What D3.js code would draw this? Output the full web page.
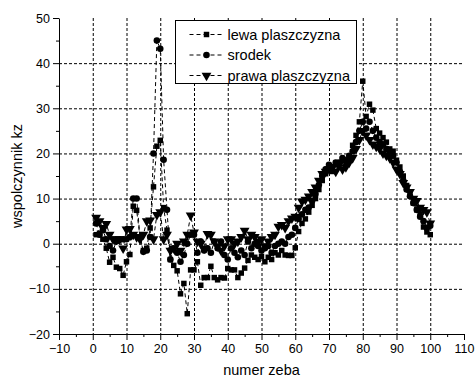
<!DOCTYPE html>
<html>
<head>
<meta charset="utf-8">
<script src="https://cdn.jsdelivr.net/npm/d3@7/dist/d3.min.js"></script>
<style>
body { margin: 0; background: #fff; }
text { font-family: Arial, "Liberation Sans", sans-serif; fill: #000; }
</style>
</head>
<body>
<div id="chart"></div>
<script>
// numer zeba 1..100
var zeby = d3.range(1, 101);

var lewa = [2.0, 2.3, 1.0, -1.0, -4.1, -3.0, -5.2, -5.5, -7.0, -4.0,
	-2.4, 8.3, 7.4, 1.5, -1.5, -1.0, 3.5, 12.6, 21.6, 22.9,
	8.0, 3.0, -3.5, -4.8, -6.0, -11.1, -8.8, -15.5, -5.8, -5.8,
	-4.0, -9.2, -7.5, -7.5, -5.0, -7.5, -8.0, -7.5, -7.6, -5.5,
	-5.8, -5.8, -7.5, -6.5, -5.4, -3.7, -2.5, -3.0, -3.5, -2.8,
	-4.0, -3.0, -3.5, -2.0, -2.5, -1.5, -2.5, -2.6, -2.6, -0.9,
	2.7, 4.5, 5.5, 7.0, 8.5, 10.0, 12.0, 14.0, 15.5, 16.5,
	16.0, 17.5, 17.0, 18.5, 18.0, 19.0, 21.8, 24.0, 27.0, 36.0,
	28.2, 30.9, 29.6, 25.5, 24.5, 23.5, 22.5, 21.0, 20.5, 18.5,
	17.0, 15.0, 12.9, 11.0, 9.0, 7.5, 6.6, 3.7, 2.6, 2.0];

var srodek = [4.5, 2.0, 3.0, 1.0, -0.5, -1.5, 0.5, 1.0, 1.0, 1.0,
	1.5, 10.0, 10.0, 1.5, -1.8, -1.5, 1.5, 20.0, 45.0, 43.2,
	18.6, 7.5, -3.5, -1.0, -2.0, -4.0, -2.5, 0.0, 2.0, 2.0,
	-2.0, 0.5, -1.5, -1.0, -2.0, 0.5, -1.0, 0.5, -2.5, -3.5,
	-1.0, -2.0, -3.0, -1.5, -2.5, 0.5, -1.0, 0.0, -0.5, -1.5,
	-1.0, -0.5, -2.0, -0.5, 0.0, 0.5, 0.0, 1.5, 2.0, 3.5,
	5.5, 6.5, 7.5, 8.0, 9.5, 11.0, 13.0, 15.0, 16.5, 17.5,
	17.0, 18.0, 18.0, 19.0, 18.5, 19.5, 20.5, 22.5, 25.0, 27.0,
	25.5, 27.0, 25.0, 23.5, 22.5, 22.0, 21.0, 20.5, 19.5, 18.0,
	16.0, 14.0, 12.0, 10.5, 9.0, 7.5, 6.0, 5.0, 3.5, 4.0];

var prawa = [5.8, 5.0, 3.5, 4.4, 2.0, 1.0, 1.0, 1.0, -1.0, 3.2,
	3.3, 2.0, 1.5, 1.0, 2.0, 5.0, 5.2, 1.0, 6.4, 7.0,
	1.0, 2.0, -1.5, -1.0, 0.0, -1.5, 0.5, 2.0, 6.3, 2.5,
	0.5, 0.0, -1.0, 2.2, 2.0, 0.5, -0.5, -1.5, -0.5, 1.0,
	1.0, 0.0, 0.5, 1.5, 2.9, 1.0, 2.0, 1.5, 0.5, 1.0,
	-0.5, 0.5, 1.5, 2.0, 3.8, 4.2, 3.5, 5.0, 5.6, 6.0,
	8.0, 9.4, 9.8, 10.5, 11.5, 12.5, 14.0, 15.5, 16.0, 16.5,
	17.0, 16.0, 17.5, 16.5, 17.0, 18.0, 19.0, 21.0, 23.0, 25.0,
	24.0, 23.0, 22.0, 21.5, 21.0, 20.0, 19.5, 19.0, 18.0, 16.5,
	15.5, 13.5, 12.5, 11.5, 10.0, 9.5, 8.0, 7.5, 7.0, 4.5];

var seriesNames = ["lewa plaszczyzna", "srodek", "prawa plaszczyzna"];
var xTicks = d3.range(-10, 111, 10);
var yTicks = d3.range(-20, 51, 10);

var width = 475, height = 378;
var svg = d3.select("#chart").append("svg")
	.attr("width", width)
	.attr("height", height);

var x = d3.scaleLinear().domain([-10, 110]).range([59, 464]);
var y = d3.scaleLinear().domain([-20, 50]).range([334, 18]);

// grid
svg.append("g").selectAll("line")
	.data(xTicks.filter(function(d) { return d > -10 && d < 110; }))
	.enter().append("line")
	.attr("x1", function(d) { return x(d) + 0.5; })
	.attr("x2", function(d) { return x(d) + 0.5; })
	.attr("y1", y(50))
	.attr("y2", y(-20))
	.style("stroke", "#000")
	.style("stroke-width", 1)
	.style("stroke-dasharray", "3,2");
svg.append("g").selectAll("line")
	.data(yTicks.filter(function(d) { return d > -20 && d < 50; }))
	.enter().append("line")
	.attr("x1", x(-10))
	.attr("x2", x(110))
	.attr("y1", function(d) { return y(d) + 0.5; })
	.attr("y2", function(d) { return y(d) + 0.5; })
	.style("stroke", "#000")
	.style("stroke-width", 1)
	.style("stroke-dasharray", "3,2");

// axes
svg.append("g")
	.attr("transform", "translate(0," + y(-20) + ")")
	.call(d3.axisBottom(x).tickValues(xTicks).tickSize(6).tickSizeOuter(0).tickPadding(4).tickFormat(d3.format("d")));
svg.append("g")
	.attr("transform", "translate(0," + y(-20) + ")")
	.call(d3.axisBottom(x).tickValues(d3.range(-5, 110, 10)).tickSize(3).tickSizeOuter(0).tickFormat(""))
	.select(".domain").remove();
svg.append("g")
	.attr("transform", "translate(" + x(-10) + ",0)")
	.call(d3.axisLeft(y).tickValues(yTicks).tickSize(6).tickSizeOuter(0).tickPadding(3).tickFormat(d3.format("d")));
svg.append("g")
	.attr("transform", "translate(" + x(-10) + ",0)")
	.call(d3.axisLeft(y).tickValues(d3.range(-15, 50, 10)).tickSize(3).tickSizeOuter(0).tickFormat(""))
	.select(".domain").remove();
svg.selectAll(".tick text")
	.style("font-size", "12.5px")
	.style("font-family", "Arial, 'Liberation Sans', sans-serif");
svg.selectAll(".domain, .tick line").style("stroke", "#000");

// axis titles
svg.append("text")
	.attr("x", (x(-10) + x(110)) / 2)
	.attr("y", 375)
	.attr("text-anchor", "middle")
	.style("font-size", "14.5px")
	.text("numer zeba");
svg.append("text")
	.attr("transform", "translate(22," + (y(50) + y(-20)) / 2 + ") rotate(-90)")
	.attr("text-anchor", "middle")
	.style("font-size", "14.5px")
	.text("wspolczynnik kz");

// series
var symbolSquare = d3.symbol().type(d3.symbolSquare).size(30);
var symbolCircle = d3.symbol().type(d3.symbolCircle).size(34);
var symbolTri = d3.symbol().type(d3.symbolTriangle).size(42);
var series = [
	{ name: seriesNames[0], values: lewa, sym: symbolSquare, rot: 0 },
	{ name: seriesNames[1], values: srodek, sym: symbolCircle, rot: 0 },
	{ name: seriesNames[2], values: prawa, sym: symbolTri, rot: 180 }
];

var line = d3.line()
	.x(function(d, i) { return x(zeby[i]); })
	.y(function(d) { return y(d); });

series.forEach(function(s) {
	svg.append("path")
		.datum(s.values)
		.attr("d", line)
		.style("fill", "none")
		.style("stroke", "#000")
		.style("stroke-width", 1)
		.style("stroke-dasharray", "4,3");
});
series.forEach(function(s) {
	svg.append("g").selectAll("path")
		.data(s.values)
		.enter().append("path")
		.attr("d", s.sym())
		.attr("transform", function(d, i) { return "translate(" + x(zeby[i]) + "," + y(d) + ") rotate(" + s.rot + ")"; })
		.style("fill", "#000");
});

// legend
var legend = svg.append("g").attr("transform", "translate(175.5,20.5)");
legend.append("rect")
	.attr("width", 181)
	.attr("height", 63)
	.style("fill", "#fff")
	.style("stroke", "#000")
	.style("stroke-width", 1);
series.forEach(function(s, i) {
	var ly = 14 + i * 20.5;
	legend.append("line")
		.attr("x1", 14)
		.attr("x2", 49)
		.attr("y1", ly)
		.attr("y2", ly)
		.style("stroke", "#000")
		.style("stroke-dasharray", "4,3");
	legend.append("path")
		.attr("d", s.sym())
		.attr("transform", "translate(31," + ly + ") rotate(" + s.rot + ")")
		.style("fill", "#000");
	legend.append("text")
		.attr("x", 52)
		.attr("y", ly + 5)
		.style("font-size", "14.5px")
		.text(s.name);
});
</script>
</body>
</html>
